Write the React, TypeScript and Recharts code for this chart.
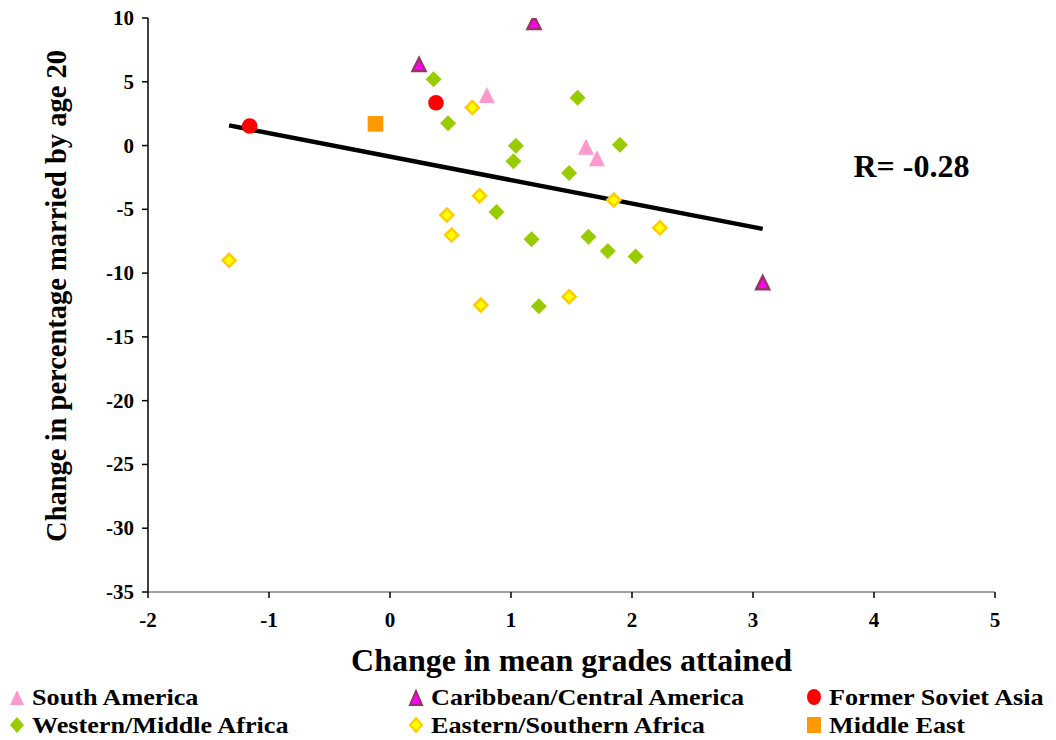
import React from 'react';
import { ScatterChart, Scatter, XAxis, YAxis, ReferenceDot } from 'recharts';

const southAmericaX = [0.80, 1.62, 1.71];
const southAmericaY = [3.9, -0.15, -1.05];
const caribbeanX = [1.19, 0.24, 3.08];
const caribbeanY = [9.6, 6.3, -10.8];
const sovietX = [-1.16, 0.38];
const sovietY = [1.53, 3.35];
const middleEastX = [-0.12];
const middleEastY = [1.7];
const westAfricaX = [0.36, 0.48, 1.04, 1.02, 1.48, 1.55, 1.90, 0.88, 1.17, 1.64, 1.80, 2.03, 1.23];
const westAfricaY = [5.2, 1.75, -0.01, -1.23, -2.16, 3.75, 0.06, -5.2, -7.35, -7.15, -8.27, -8.7, -12.6];
const eastAfricaX = [-1.33, 0.68, 0.74, 0.47, 0.51, 0.75, 1.48, 1.85, 2.23];
const eastAfricaY = [-9.0, 2.98, -3.93, -5.45, -7.02, -12.5, -11.85, -4.27, -6.45];
const trendX = [-1.33, 3.08];
const trendY = [1.58, -6.53];
const xTicks = [-2, -1, 0, 1, 2, 3, 4, 5];
const yTicks = [10, 5, 0, -5, -10, -15, -20, -25, -30, -35];

const zip = (xs: number[], ys: number[]) => xs.map((x, i) => ({ x, y: ys[i] }));

const FONT = "'Liberation Serif', 'Times New Roman', serif";
const textStyle: React.CSSProperties = { fontFamily: FONT, fontWeight: 'bold', fill: '#000' };

const Triangle = (fill: string, stroke: string, sw: number, hw: number, h: number) => (p: any) => {
  const { cx, cy } = p;
  return <polygon points={`${cx},${cy - h * 0.55} ${cx - hw},${cy + h * 0.45} ${cx + hw},${cy + h * 0.45}`} fill={fill} stroke={stroke} strokeWidth={sw} />;
};
const Diamond = (fill: string, stroke: string, sw: number, r: number) => (p: any) => {
  const { cx, cy } = p;
  return <polygon points={`${cx},${cy - r} ${cx + r},${cy} ${cx},${cy + r} ${cx - r},${cy}`} fill={fill} stroke={stroke} strokeWidth={sw} />;
};
const CircleS = (fill: string) => (p: any) => <circle cx={p.cx} cy={p.cy} r={7.8} fill={fill} />;
const SquareS = (fill: string) => (p: any) => <rect x={p.cx - 7.8} y={p.cy - 7.8} width={15.6} height={15.6} fill={fill} />;

const series = [
  { name: 'South America', data: zip(southAmericaX, southAmericaY), shape: Triangle('#FF99CC', 'none', 0, 8, 16) },
  { name: 'Caribbean/Central America', data: zip(caribbeanX, caribbeanY), shape: Triangle('#FF00FF', '#993366', 2.5, 6.5, 13) },
  { name: 'Former Soviet Asia', data: zip(sovietX, sovietY), shape: CircleS('#FF0000') },
  { name: 'Western/Middle Africa', data: zip(westAfricaX, westAfricaY), shape: Diamond('#99CC00', 'none', 0, 8) },
  { name: 'Eastern/Southern Africa', data: zip(eastAfricaX, eastAfricaY), shape: Diamond('#FFFF00', '#FFCC00', 2.5, 6.5) },
  { name: 'Middle East', data: zip(middleEastX, middleEastY), shape: SquareS('#FF9900') },
];

const legendIcons = [
  <svg width="16" height="20"><polygon points="8,3 1,18 15,18" fill="#FF99CC" /></svg>,
  <svg width="16" height="20"><polygon points="8,4 2,18 14,18" fill="#FF00FF" stroke="#993366" strokeWidth="2" /></svg>,
  <svg width="16" height="20"><ellipse cx="8" cy="10" rx="7" ry="8" fill="#FF0000" /></svg>,
  <svg width="16" height="20"><polygon points="8,2 15,10 8,18 1,10" fill="#99CC00" /></svg>,
  <svg width="16" height="20"><polygon points="8,3 14,10 8,17 2,10" fill="#FFFF00" stroke="#FFCC00" strokeWidth="2" /></svg>,
  <svg width="16" height="20"><rect x="1" y="2" width="14" height="16" fill="#FF9900" /></svg>,
];
const legendCols = [9, 408, 806];
const legendRows = [686, 714];

const renderXTick = (p: any) => (
  <text x={p.x} y={p.y + 27} textAnchor="middle" style={{ ...textStyle, fontSize: 21 }}>
    {p.payload.value}
  </text>
);
const renderYTick = (p: any) => (
  <text x={p.x - 6} y={p.y + 7} textAnchor="end" style={{ ...textStyle, fontSize: 21 }}>
    {p.payload.value}
  </text>
);

export default function App() {
  return (
    <div style={{ position: 'absolute', left: 0, top: 0, width: 1056, height: 740, background: '#fff' }}>
      <ScatterChart width={1056} height={740} margin={{ top: 18, right: 61, left: 0, bottom: 0 }}>
        <XAxis
          type="number"
          dataKey="x"
          domain={[-2, 5]}
          ticks={xTicks}
          interval={0}
          allowDataOverflow
          height={148}
          stroke="#808080"
          strokeWidth={1.5}
          tickLine={{ stroke: '#000' }}
          tickSize={6}
          tick={renderXTick}
          label={{ value: 'Change in mean grades attained', position: 'insideTop', offset: 56, fill: '#000', fontSize: 32, fontWeight: 'bold', fontFamily: FONT, style: { fontFamily: FONT } }}
        />
        <YAxis
          type="number"
          dataKey="y"
          domain={[-35, 10]}
          ticks={yTicks}
          interval={0}
          allowDataOverflow
          width={148}
          stroke="#000"
          strokeWidth={1.5}
          tickSize={6}
          tick={renderYTick}
          label={{ value: 'Change in percentage married by age 20', angle: -90, position: 'center', dx: -18, dy: -9, fill: '#000', fontSize: 28.5, fontWeight: 'bold', fontFamily: FONT, style: { fontFamily: FONT } }}
        />
        <Scatter
          data={zip(trendX, trendY)}
          line={{ stroke: '#000', strokeWidth: 4.5 }}
          shape={() => <g />}
          legendType="none"
          isAnimationActive={false}
        />
        {series.map((s) => (
          <Scatter key={s.name} name={s.name} data={s.data} shape={s.shape} isAnimationActive={false} />
        ))}
        <ReferenceDot
          x={4.31}
          y={-1.6}
          r={0}
          fill="none"
          stroke="none"
          label={{ value: 'R= -0.28', position: 'center', fill: '#000', fontSize: 32, fontWeight: 'bold', fontFamily: FONT, style: { fontFamily: FONT } }}
        />
      </ScatterChart>
      {series.map((s, i) => (
        <div
          key={s.name}
          style={{
            position: 'absolute',
            left: legendCols[i % 3],
            top: legendRows[Math.floor(i / 3)],
            display: 'flex',
            alignItems: 'center',
            fontFamily: FONT,
            fontWeight: 'bold',
            fontSize: 24,
            lineHeight: '22px',
            height: 22,
            whiteSpace: 'nowrap',
          }}
        >
          <span style={{ display: 'inline-block', width: 17, height: 20 }}>{legendIcons[i]}</span>
          <span style={{ marginLeft: 6, display: 'inline-block', transform: 'scaleX(1.09)', transformOrigin: 'left center' }}>{s.name}</span>
        </div>
      ))}
    </div>
  );
}
